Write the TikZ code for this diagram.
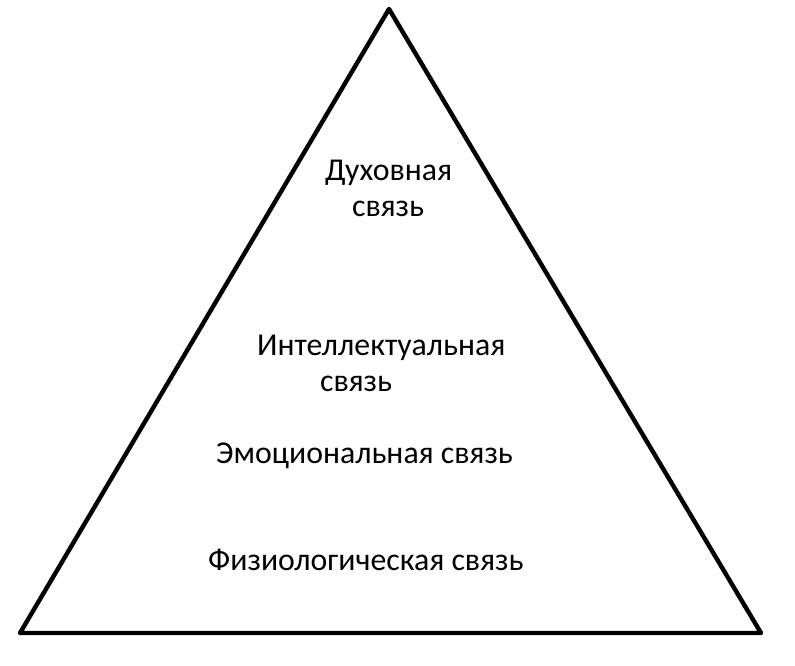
\documentclass[tikz,border=0pt]{standalone}
\usepackage{fontspec}
\setmainfont{Carlito}
\usepackage{tikz}

\begin{document}
\begin{tikzpicture}[x=1pt,y=-1pt,
    level/.style={anchor=base west,inner sep=0pt,font=\fontsize{31.8}{38}\selectfont}]
    % Fix the page to the reference size
    \useasboundingbox (0,0) rectangle (795,666);

    % Corners of the pyramid
    \coordinate (top) at (389,9);
    \coordinate (left) at (20,633);
    \coordinate (right) at (761,633);

    % Draw the pyramid
    \draw[line width=4.4pt, line join=round] (top) -- (right) -- (left) -- cycle;

    % Labels of the levels
    \node[level] (spirit1) at (325,180) {Духовная};
    \node[level] (spirit2) at (352,216) {связь};
    \node[level] (mind1) at (257,355) {Интеллектуальная};
    \node[level] (mind2) at (320,391) {связь};
    \node[level] (emotion) at (216,463) {Эмоциональная связь};
    \node[level] (body) at (208,570) {Физиологическая связь};
\end{tikzpicture}
\end{document}
